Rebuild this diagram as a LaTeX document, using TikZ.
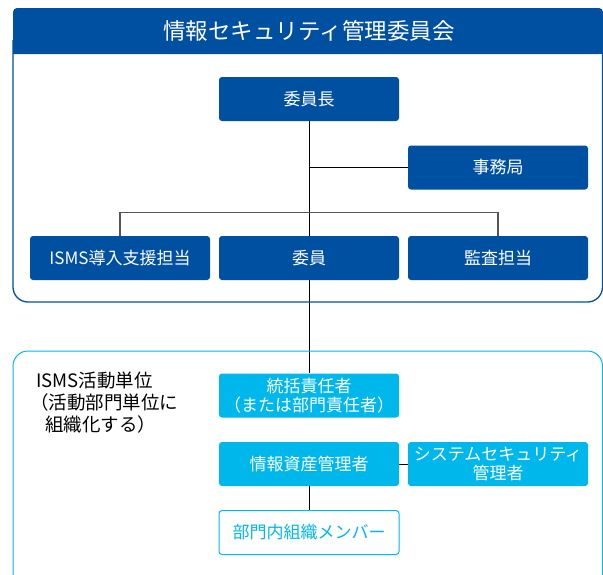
\documentclass[tikz,border=0pt]{standalone}
\usepackage{fontspec}
\setmainfont{Noto Sans CJK JP}
\definecolor{dblue}{RGB}{0,80,162}
\definecolor{lblue}{RGB}{0,183,236}
\definecolor{bargray}{RGB}{85,85,85}
\pgfdeclarelayer{bg}
\pgfsetlayers{bg,main}
\tikzset{
  boxbase/.style={rectangle, rounded corners=3pt, minimum width=180pt, minimum height=44pt,
    inner sep=0pt, align=center, font=\fontsize{17}{19}\selectfont},
  darkbox/.style={boxbase, fill=dblue, text=white},
  lightbox/.style={boxbase, fill=lblue, text=white},
  whitebox/.style={boxbase, fill=white, draw=lblue, line width=1pt, text=lblue},
  conn/.style={draw=black, line width=0.8pt},
}
\begin{document}
\begin{tikzpicture}[x=1pt,y=-1pt]
\clip (0,0) rectangle (603,574);
% outer frames
\draw[dblue, line width=1.3pt, rounded corners=15pt] (13,40) -- (13,302) -- (602.5,302) -- (602.5,40);
\fill[dblue, rounded corners=4pt] (13,54) -- (13,8) -- (603,8) -- (603,54) [sharp corners] -- cycle;
\fill[dblue] (13,30) rectangle (603,54);
\node[text=white, font=\fontsize{22.5}{25}\selectfont] (title) at (309,31) {情報セキュリティ管理委員会};
\draw[lblue, line width=1pt, rounded corners=15pt] (13,351) rectangle (602.5,600);

% nodes
\node[darkbox] (chair) at (309,99) {委員長};
\node[darkbox] (office) at (498,167.5) {事務局};
\node[darkbox] (support) at (120,258) {ISMS導入支援担当};
\node[darkbox] (member) at (309,258) {委員};
\node[darkbox] (audit) at (498,258) {監査担当};
\node[lightbox] (head) at (309,395.5) {統括責任者\\（または部門責任者）};
\node[lightbox] (asset) at (309,464) {情報資産管理者};
\node[lightbox] (sysadm) at (498,464) {システムセキュリティ\\管理者};
\node[whitebox] (staff) at (309,532.5) {部門内組織メンバー};
\node[anchor=north west, align=left, font=\fontsize{18.5}{22}\selectfont, inner sep=0pt] (unit) at (36,372)
  {ISMS活動単位\\\hspace*{-6pt}（活動部門単位に\\\hspace*{9pt}組織化する）};
\coordinate (bar) at (309,212.5);

\begin{pgfonlayer}{bg}
\draw[conn] (chair.south) -- (head.north);
\draw[conn] (chair.south |- office.west) -- (office.west);
\draw[bargray, line width=1.2pt] (support.north) |- (bar) -| (audit.north);
\draw[conn] (asset.south) -- (staff.north);
\draw[conn] (asset.east) -- (sysadm.west);
\end{pgfonlayer}
\end{tikzpicture}
\end{document}
